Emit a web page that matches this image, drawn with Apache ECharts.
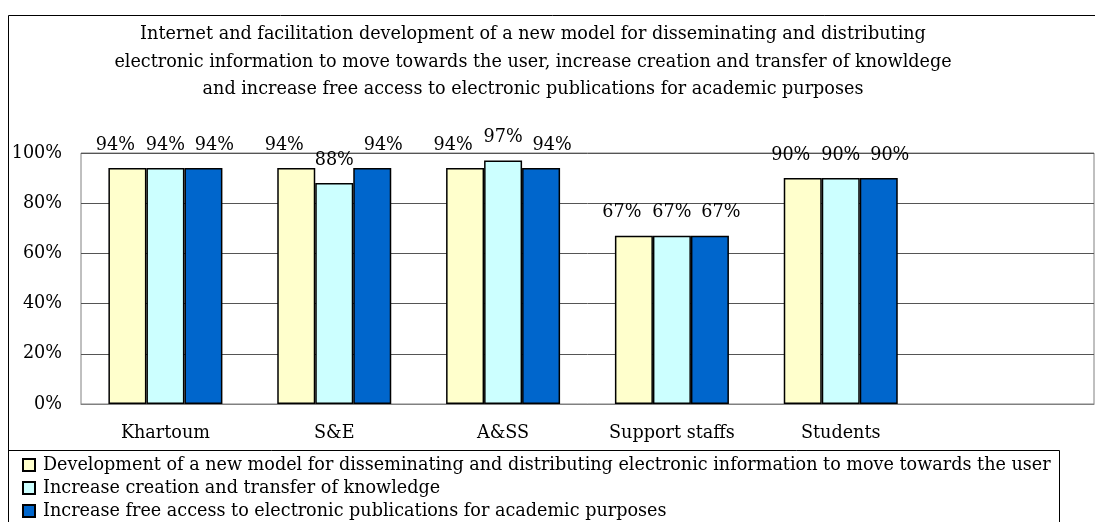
<!DOCTYPE html>
<html>
<head>
<meta charset="utf-8">
<script src="https://cdn.jsdelivr.net/npm/echarts@6/dist/echarts.min.js"></script>
<style>
  html, body { margin: 0; padding: 0; background: #fff; }
  #chart { width: 1095px; height: 522px; }
</style>
</head>
<body>
<div id="chart"></div>
<script>
// data
const categories = ['Khartoum', 'S&E', 'A&SS', 'Support staffs', 'Students', ''];
const seriesNames = [
  'Development of a new model for disseminating and distributing electronic information to move towards the user',
  'Increase creation and transfer of knowledge',
  'Increase free access to electronic publications for academic purposes'
];
const newModel = [94, 94, 94, 67, 90, null];
const creation = [94, 88, 97, 67, 90, null];
const freeAccess = [94, 94, 94, 67, 90, null];
const yTicks = [0, 20, 40, 60, 80, 100];

const titleText = 'Internet and facilitation development of a new model for disseminating and distributing\n' +
  'electronic information to move towards the user, increase creation and transfer of knowldege\n' +
  'and increase free access to electronic publications for academic purposes';

const font = 'DejaVu Serif';
const fs = 17.6;
const colors = ['#FFFFCC', '#CCFFFF', '#0066CC'];

const chart = echarts.init(document.getElementById('chart'));

// labels get spread apart sideways like in the original
function barSeries(name, data, color, dx) {
  return {
    name: name,
    type: 'bar',
    data: data,
    barWidth: 38,
    barGap: '0%',
    itemStyle: { color: color, borderColor: '#000', borderWidth: 1.5 },
    label: {
      show: true,
      position: 'top',
      distance: 14,
      offset: [dx, 0],
      formatter: '{c}%',
      fontFamily: font,
      fontSize: fs,
      color: '#000'
    }
  };
}

chart.setOption({
  animation: false,
  title: {
    text: titleText,
    left: 528,
    top: 16,
    textAlign: 'center',
    textStyle: { fontFamily: font, fontSize: fs, fontWeight: 'normal', color: '#000', lineHeight: 27.5 }
  },
  graphic: [
    // outer frame
    { type: 'rect', shape: { x: 8.5, y: 15.5, width: 1100, height: 520 },
      style: { fill: 'none', stroke: '#000', lineWidth: 1 }, silent: true },
    // legend box
    { type: 'rect', shape: { x: 8.5, y: 450.5, width: 1051, height: 100 },
      style: { fill: 'none', stroke: '#000', lineWidth: 1 }, silent: true }
  ],
  legend: {
    orient: 'vertical',
    left: 22,
    top: 456,
    itemWidth: 12,
    itemHeight: 12,
    itemGap: 5,
    icon: 'rect',
    padding: 0,
    textStyle: { fontFamily: font, fontSize: fs, color: '#000', lineHeight: 17, padding: [0, 0, 0, 3] }
  },
  grid: {
    left: 81, right: 1, top: 153, bottom: 118,
    show: true, borderColor: '#808080', borderWidth: 1
  },
  xAxis: {
    type: 'category',
    data: categories,
    axisTick: { show: false },
    axisLine: { lineStyle: { color: '#808080' } },
    axisLabel: { fontFamily: font, fontSize: fs, color: '#000', margin: 20 }
  },
  yAxis: {
    type: 'value',
    min: yTicks[0],
    max: yTicks[yTicks.length - 1],
    interval: 20,
    axisLine: { show: false },
    axisTick: { show: false },
    axisLabel: { formatter: '{value}%', fontFamily: font, fontSize: fs, color: '#000', margin: 19 },
    splitLine: { lineStyle: { color: '#555', width: 1 } }
  },
  series: [
    barSeries(seriesNames[0], newModel, colors[0], -12),
    barSeries(seriesNames[1], creation, colors[1], 0),
    barSeries(seriesNames[2], freeAccess, colors[2], 11)
  ]
});
</script>
</body>
</html>
